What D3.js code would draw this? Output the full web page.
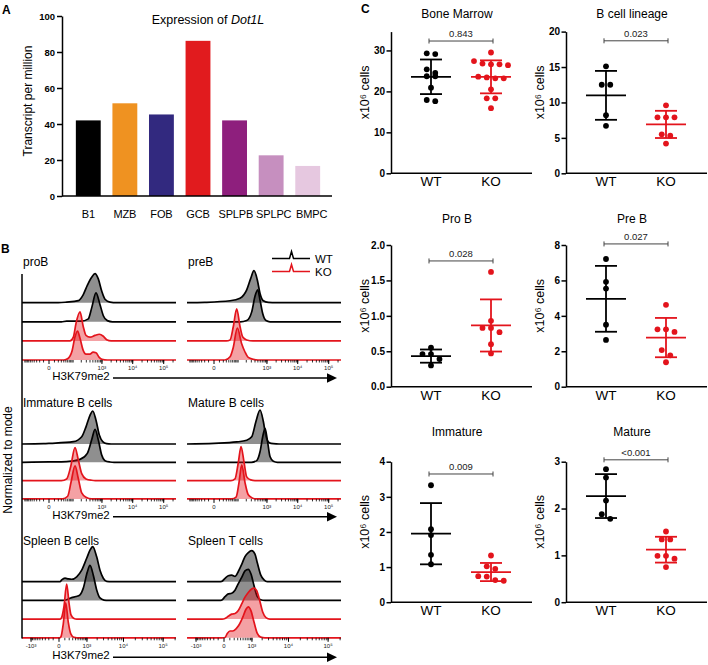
<!DOCTYPE html>
<html><head><meta charset="utf-8">
<script src="https://cdn.jsdelivr.net/npm/d3@7/dist/d3.min.js"></script>
<style>body{margin:0;background:#fff}svg{display:block}</style>
</head><body><svg id="chart" width="708" height="665"></svg>
<script>
// ================= DATA =================
// Panel A
const cellTypes = ["B1","MZB","FOB","GCB","SPLPB","SPLPC","BMPC"];
const dot1lTPM = [42, 51.5, 45.3, 86.2, 42, 22.6, 16.7];
const cellColors = ["#000000","#ef9221","#32297f","#e11b1e","#8e1f7d","#c68fbf","#e6c8e0"];
const tpmTicks = [0,20,40,60,80,100];

// Panel B (intensity, fraction of mode)
const histPanelNames = ["proB","preB","Immature B cells","Mature B cells","Spleen B cells","Spleen T cells"];
const histRowGenotypes = ["WT","WT","KO","KO"];
const histTickValsBM = [0, 1000, 10000, 100000];
const histTickLabsBM = ["0","10\u00B3","10\u2074","10\u2075"];
const histTickValsSp = [-1000, 0, 1000, 10000, 100000];
const histTickLabsSp = ["-10\u00B3","0","10\u00B3","10\u2074","10\u2075"];
const histAxisLabel = "H3K79me2";

const histProB = [
 [[-130,0],[20,0],[54,0.02],[156,0.07],[235,0.28],[324,0.6],[456,0.88],[590,1],[758,0.82],[982,0.4],[1260,0.12],[1840,0.02],[3000,0],[262143,0]],
 [[-130,0],[30,0],[54,0.02],[200,0.02],[350,0.1],[456,0.48],[636,1],[864,0.59],[1110,0.21],[1500,0.04],[2200,0],[262143,0]],
 [[-130,0],[75,0],[102,0.13],[129,0.61],[180,1],[235,0.49],[292,0.19],[400,0.13],[590,0.19],[819,0.23],[1110,0.16],[1430,0.04],[2000,0],[262143,0]],
 [[-130,0],[40,0],[62,0.05],[90,0.3],[118,0.8],[146,1],[180,0.75],[230,0.35],[292,0.2],[400,0.2],[505,0.27],[636,0.25],[800,0.1],[1006,0.02],[1500,0],[262143,0]]
];
const histPreB = [
 [[-130,0],[-20,0.01],[46,0.06],[118,0.14],[207,0.4],[286,0.76],[370,1],[479,0.71],[590,0.29],[758,0.06],[1110,0.01],[2000,0],[262143,0]],
 [[-130,0],[120,0],[207,0.04],[309,0.31],[400,0.8],[494,1],[590,0.68],[724,0.26],[932,0.04],[1260,0],[262143,0]],
 [[-130,0],[30,0],[46,0.03],[64,0.45],[88,1],[118,0.45],[149,0.12],[207,0.03],[340,0],[262143,0]],
 [[-130,0],[25,0],[46,0.1],[64,0.4],[93,1],[137,0.5],[180,0.25],[235,0.08],[350,0.02],[500,0],[262143,0]]
];
const histImmature = [
 [[-130,0],[-10,0.01],[2,0.02],[102,0.07],[207,0.22],[292,0.52],[400,0.87],[494,1],[636,0.72],[819,0.27],[1060,0.07],[1430,0.01],[2000,0],[262143,0]],
 [[-130,0],[0,0.01],[54,0.02],[180,0.09],[324,0.27],[456,0.68],[590,1],[758,0.68],[982,0.22],[1260,0.05],[1840,0.01],[2500,0],[262143,0]],
 [[-130,0],[30,0],[54,0.05],[80,0.42],[118,1],[156,0.63],[207,0.21],[292,0.05],[456,0.01],[600,0],[262143,0]],
 [[-130,0],[35,0],[60,0.08],[83,0.51],[118,1],[156,0.62],[207,0.18],[292,0.05],[456,0],[262143,0]]
];
const histMature = [
 [[-130,0],[0,0.02],[88,0.06],[207,0.11],[309,0.21],[433,0.67],[590,1],[758,0.67],[932,0.21],[1196,0.04],[1616,0.01],[2500,0],[262143,0]],
 [[-130,0],[300,0],[456,0.05],[590,0.31],[724,0.75],[864,1],[1028,0.66],[1260,0.17],[1616,0.03],[2200,0],[262143,0]],
 [[-130,0],[50,0],[75,0.05],[102,0.54],[129,1],[166,0.54],[207,0.11],[286,0.02],[400,0],[262143,0]],
 [[-130,0],[55,0],[83,0.05],[108,0.48],[137,1],[180,0.48],[235,0.12],[334,0.02],[450,0],[262143,0]]
];
const histSpleenB = [
 [[-1850,0],[15,0],[42,0.05],[103,0.1],[177,0.08],[269,0.07],[443,0.14],[673,0.33],[981,0.67],[1239,0.9],[1490,1],[1940,0.71],[2398,0.33],[2953,0.1],[3645,0.01],[4943,0],[217000,0]],
 [[-1850,0],[60,0],[139,0.02],[269,0.08],[415,0.11],[587,0.16],[763,0.35],[1025,0.81],[1239,1],[1551,0.72],[1940,0.3],[2398,0.07],[3085,0.01],[4000,0],[217000,0]],
 [[-1850,0],[15,0],[42,0.05],[83,0.36],[139,1],[195,0.46],[249,0.12],[343,0.02],[450,0],[217000,0]],
 [[-1850,0],[10,0],[30,0.03],[70,0.4],[118,1],[177,0.44],[240,0.12],[343,0.01],[450,0],[217000,0]]
];
const histSpleenT = [
 [[-1850,0],[-80,0],[-35,0.01],[15,0.11],[70,0.19],[139,0.21],[221,0.17],[320,0.33],[443,0.56],[587,0.81],[763,0.94],[981,1],[1239,0.89],[1450,0.61],[1817,0.22],[2250,0.06],[2773,0],[217000,0]],
 [[-1850,0],[-80,0],[-35,0.01],[15,0.12],[70,0.21],[139,0.23],[221,0.33],[320,0.54],[443,0.74],[587,0.95],[763,1],[933,0.85],[1156,0.48],[1450,0.12],[1817,0.02],[2398,0],[217000,0]],
 [[-1850,0],[-30,0],[15,0.02],[70,0.09],[139,0.16],[221,0.18],[320,0.28],[443,0.49],[587,0.71],[763,0.86],[981,0.97],[1156,1],[1393,0.92],[1658,0.65],[2070,0.23],[2555,0.05],[3282,0],[217000,0]],
 [[-1850,0],[-30,0],[15,0.01],[52,0.14],[103,0.22],[163,0.22],[249,0.29],[353,0.43],[484,0.66],[637,0.92],[763,1],[933,0.87],[1156,0.51],[1450,0.14],[1817,0.02],[2398,0],[217000,0]]
];

// Panel C (x10^6 cells)
const genotypes = ["WT","KO"];
const cTitles = ["Bone Marrow","B cell lineage","Pro B","Pre B","Immature","Mature"];
const pValues = ["0.843","0.023","0.028","0.027","0.009","<0.001"];
const bmWT = [29.3,29.1,25.4,24.5,23.7,23.7,20.9,17.9,17.6];
const bmKO = [29.5,27.4,26.8,26.6,26.6,26.4,23.6,23.4,23.2,23.2,20.5,18.3,18.3,15.9];
const blWT = [15.1,12.5,12.5,8.2,6.7];
const blKO = [9.6,7.9,7.9,7.9,5.5,5.3,4.2];
const proWT = [0.55,0.46,0.46,0.39,0.30];
const proKO = [1.62,0.93,0.83,0.83,0.77,0.60,0.47];
const preWT = [7.21,5.92,5.54,3.50,2.64];
const preKO = [4.62,3.24,3.24,3.09,2.07,1.77,1.38];
const immWT = [3.33,2.08,1.91,1.35,1.08];
const immKO = [1.33,1.02,0.95,0.74,0.73,0.63,0.61];
const matWT = [2.84,2.66,2.17,1.88,1.78];
const matKO = [1.51,1.34,1.34,0.99,0.99,0.93,0.75];
const bmTicks = [0,10,20,30], blTicks = [0,5,10,15,20], proTicks = [0,0.5,1,1.5,2],
      preTicks = [0,2,4,6,8], immTicks = [0,1,2,3,4], matTicks = [0,1,2,3];

// ================= DRAWING =================
const FONT = "'Liberation Sans', Arial, Helvetica, sans-serif";
const RED = "#e3141c";
const svg = d3.select("#chart").attr("font-family", FONT);

function styleAxis(sel, fs){
  sel.attr("font-family", FONT);
  sel.select(".domain").attr("stroke","#000").attr("stroke-width",1.5);
  sel.selectAll(".tick line").attr("stroke","#000").attr("stroke-width",1.5);
  sel.selectAll(".tick text").attr("font-size",fs).attr("font-weight","bold").attr("fill","#000").attr("font-family",FONT);
}
function label(x,y,txt,opts={}){
  const t = svg.append("text").attr("x",x).attr("y",y).text(txt)
    .attr("font-size",opts.size||12).attr("fill",opts.fill||"#000")
    .attr("text-anchor",opts.anchor||"start");
  if(opts.bold) t.attr("font-weight","bold");
  if(opts.rotate) t.attr("transform",`rotate(-90,${x},${y})`);
  return t;
}

// ---------- Panel A ----------
{
  const yA = d3.scaleLinear().domain([0,100]).range([196,16]);
  const xA = d3.scaleBand().domain(cellTypes).range([70,326]).paddingInner(0.32).paddingOuter(0.16);
  const g = svg.append("g");
  g.selectAll("rect").data(cellTypes).join("rect")
    .attr("x",d=>xA(d)).attr("width",xA.bandwidth())
    .attr("y",(d,i)=>yA(dot1lTPM[i])).attr("height",(d,i)=>yA(0)-yA(dot1lTPM[i]))
    .attr("fill",(d,i)=>cellColors[i]);
  const ax = g.append("g").attr("transform","translate(62,0)")
    .call(d3.axisLeft(yA).tickValues(tpmTicks).tickSize(5).tickSizeOuter(0).tickPadding(2));
  styleAxis(ax, 9.5);
  g.append("line").attr("x1",62).attr("x2",332).attr("y1",yA(0)).attr("y2",yA(0))
    .attr("stroke","#000").attr("stroke-width",1.5);
  g.selectAll("text.xl").data(cellTypes).join("text").attr("class","xl")
    .attr("x",(d,i)=>xA(d)+xA.bandwidth()/2 + (i>=4 ? (i-3)*1.3 : 0)).attr("y",217.5).attr("text-anchor","middle")
    .attr("font-size",11).attr("letter-spacing",-0.15).text(d=>d);
  const tt = svg.append("text").attr("x",208).attr("y",23.5).attr("text-anchor","middle").attr("font-size",12.5);
  tt.append("tspan").text("Expression of ");
  tt.append("tspan").attr("font-style","italic").text("Dot1L");
  label(32,101,"Transcript per million",{anchor:"middle",rotate:true});
  label(2,13.5,"A",{bold:true,size:12});
}

// ---------- Panel B ----------
{
  label(1,253,"B",{bold:true,size:12});
  const kinds = {
    bm:{c:20, zero:27, e5:141.7, ticks:histTickValsBM, labels:histTickLabsBM, minorFrom:1},
    sp:{c:250, zero:37, e5:141.1, ticks:histTickValsSp, labels:histTickLabsSp, minorFrom:2}
  };
  const W = 154;
  const histLayout = [
    {title:histPanelNames[0], curves:histProB,     x0:22,  base:302.7, step:19.1, H:29, kind:"bm"},
    {title:histPanelNames[1], curves:histPreB,     x0:187, base:302.7, step:19.1, H:32, kind:"bm"},
    {title:histPanelNames[2], curves:histImmature, x0:22,  base:444,   step:18.3, H:33, kind:"bm"},
    {title:histPanelNames[3], curves:histMature,   x0:187, base:444,   step:18.3, H:34, kind:"bm"},
    {title:histPanelNames[4], curves:histSpleenB,  x0:22,  base:581.7, step:18.7, H:35, kind:"sp"},
    {title:histPanelNames[5], curves:histSpleenT,  x0:187, base:581.7, step:18.7, H:31, kind:"sp"}
  ];
  const defs = svg.append("defs");
  histLayout.forEach((P,pi) => {
    const k = kinds[P.kind];
    const x = d3.scaleSymlog().constant(k.c).domain([0,1e5]).range([P.x0+k.zero, P.x0+k.e5]);
    defs.append("clipPath").attr("id","hc"+pi).append("rect")
      .attr("x",P.x0).attr("y",P.base-60).attr("width",W).attr("height",P.step*3+80);
    const g = svg.append("g").attr("clip-path",`url(#hc${pi})`);
    P.curves.forEach((curve,i) => {
      const b = P.base + i*P.step;
      const wt = histRowGenotypes[i]==="WT";
      const area = d3.area().x(d=>x(d[0])).y0(b).y1(d=>b-d[1]*P.H).curve(d3.curveMonotoneX);
      const line = d3.line().x(d=>x(d[0])).y(d=>b-d[1]*P.H).curve(d3.curveMonotoneX);
      g.append("path").attr("d",area(curve)).attr("fill",wt?"#333":RED).attr("fill-opacity",wt?0.55:0.4);
      g.append("path").attr("d",line(curve)).attr("fill","none").attr("stroke",wt?"#000":RED)
        .attr("stroke-width",1.7).attr("stroke-linejoin","round");
    });
    label(P.x0+1, P.base-37, P.title, {size:12});
    const yb = P.base + 3*P.step;
    const [lo, hi] = [x.invert(P.x0), x.invert(P.x0+W)];
    const minor = [];
    for(let e=k.minorFrom; e<=5; e++) for(let m=1; m<10; m++){ minor.push(m*10**e, -m*10**e); }
    const tg = svg.append("g");
    minor.filter(v=>v>lo && v<hi).forEach(v=>{
      tg.append("line").attr("x1",x(v)).attr("x2",x(v)).attr("y1",yb).attr("y2",yb+2.5)
        .attr("stroke","#000").attr("stroke-width",0.8);
    });
    k.ticks.forEach((v,j)=>{
      tg.append("line").attr("x1",x(v)).attr("x2",x(v)).attr("y1",yb).attr("y2",yb+4)
        .attr("stroke","#000").attr("stroke-width",1);
      tg.append("text").attr("x",x(v)).attr("y",yb+10).attr("text-anchor","middle")
        .attr("font-size",6).attr("fill","#222").text(k.labels[j]);
    });
  });
  svg.append("line").attr("x1",22).attr("x2",22).attr("y1",274).attr("y2",638.5)
    .attr("stroke","#000").attr("stroke-width",1.5);
  [[380,378],[519,516.7],[659,657.3]].forEach(([ty,ly])=>{
    label(81,ty,histAxisLabel,{anchor:"middle",size:11.5});
    svg.append("line").attr("x1",113).attr("x2",330).attr("y1",ly).attr("y2",ly)
      .attr("stroke","#000").attr("stroke-width",1.5);
    svg.append("path").attr("d",`M327,${ly-4.8}L337,${ly}L327,${ly+4.8}Z`).attr("fill","#000");
  });
  label(12,460,"Normalized to mode",{anchor:"middle",rotate:true,size:12});
  [["WT","#000",258.5],["KO",RED,271.5]].forEach(([t,c,y])=>{
    svg.append("path").attr("d",`M272,${y}H289.5L291.5,${y-7}L293.5,${y}H310`)
      .attr("fill","none").attr("stroke",c).attr("stroke-width",1.5);
    label(315,y+4,t,{size:11.5});
  });
}

// ---------- Panel C ----------
{
  label(361,13,"C",{bold:true,size:12});
  const cLayout = {colX:[391,566], rowY0:[173.3,386.7,602.2], rowH:[141.7,141.7,140.5], xLen:141, wtOff:40, koOff:100};
  const cPanels = [
    {wt:bmWT,  ko:bmKO,  yMax:34.6, ticks:bmTicks,  fmt:"d",   col:0,row:0, bracket:32.3},
    {wt:blWT,  ko:blKO,  yMax:20,   ticks:blTicks,  fmt:"d",   col:1,row:0, bracket:18.7},
    {wt:proWT, ko:proKO, yMax:2,    ticks:proTicks, fmt:".1f", col:0,row:1, bracket:1.775},
    {wt:preWT, ko:preKO, yMax:8,    ticks:preTicks, fmt:"d",   col:1,row:1, bracket:8.06},
    {wt:immWT, ko:immKO, yMax:4,    ticks:immTicks, fmt:"d",   col:0,row:2, bracket:3.65},
    {wt:matWT, ko:matKO, yMax:3,    ticks:matTicks, fmt:"d",   col:1,row:2, bracket:3.04}
  ];
  const titleY = [17.5, 223, 436];
  function swarm(values, y, spacing, thresh){
    const pts = values.map(v=>({v, py:y(v)})).sort((a,b)=>a.py-b.py);
    const rows=[]; let cur=null;
    pts.forEach(p=>{ if(cur && p.py-cur[0].py < thresh) cur.push(p); else { cur=[p]; rows.push(cur); } });
    rows.forEach(r=>r.forEach((p,i)=>p.dx=(i-(r.length-1)/2)*spacing));
    return pts;
  }
  cPanels.forEach((P,pi)=>{
    const ax0 = cLayout.colX[P.col], y0 = cLayout.rowY0[P.row], h = cLayout.rowH[P.row];
    const y = d3.scaleLinear().domain([0,P.yMax]).range([y0, y0-h]);
    const x = d3.scalePoint().domain(genotypes).range([ax0+cLayout.wtOff, ax0+cLayout.koOff]);
    const g = svg.append("g");
    const a = g.append("g").attr("transform",`translate(${ax0},0)`)
      .call(d3.axisLeft(y).tickValues(P.ticks).tickFormat(d3.format(P.fmt)).tickSize(4.5).tickSizeOuter(0).tickPadding(1.5));
    styleAxis(a, 10);
    g.append("line").attr("x1",ax0).attr("x2",ax0+cLayout.xLen).attr("y1",y0).attr("y2",y0)
      .attr("stroke","#000").attr("stroke-width",1.5);
    genotypes.forEach(gt=>{
      g.append("text").attr("x",x(gt)).attr("y",y0+13).attr("text-anchor","middle")
        .attr("font-size",13.5).text(gt);
    });
    label(ax0+66, titleY[P.row], cTitles[pi], {anchor:"middle", size:12});
    label(ax0-21.5, y0-h/2-10, "x10\u2076 cells", {anchor:"middle", rotate:true, size:12.5});
    [[P.wt,"WT","#000"],[P.ko,"KO",RED]].forEach(([vals,gt,col])=>{
      const cx = x(gt);
      const pts = swarm(vals, y, 8.5, 5.8);
      g.selectAll(null).data(pts).join("circle").attr("cx",d=>cx+d.dx).attr("cy",d=>d.py)
        .attr("r",2.9).attr("fill",col);
      const m = d3.mean(vals), sd = d3.deviation(vals);
      const sw = 1.8;
      g.append("line").attr("x1",cx-20).attr("x2",cx+20).attr("y1",y(m)).attr("y2",y(m)).attr("stroke",col).attr("stroke-width",sw);
      g.append("line").attr("x1",cx).attr("x2",cx).attr("y1",y(m-sd)).attr("y2",y(m+sd)).attr("stroke",col).attr("stroke-width",sw);
      [m-sd,m+sd].forEach(v=>g.append("line").attr("x1",cx-11).attr("x2",cx+11).attr("y1",y(v)).attr("y2",y(v)).attr("stroke",col).attr("stroke-width",sw));
    });
    const by = y(P.bracket), bx1 = x("WT")-2, bx2 = x("KO")+2;
    g.append("path").attr("d",`M${bx1},${by-2.5}V${by+2.5}M${bx1},${by}H${bx2}M${bx2},${by-2.5}V${by+2.5}`)
      .attr("fill","none").attr("stroke","#444").attr("stroke-width",1);
    g.append("text").attr("x",(bx1+bx2)/2).attr("y",by-4).attr("text-anchor","middle")
      .attr("font-size",9.5).attr("fill","#222").text(pValues[pi]);
  });
}
</script></body></html>
